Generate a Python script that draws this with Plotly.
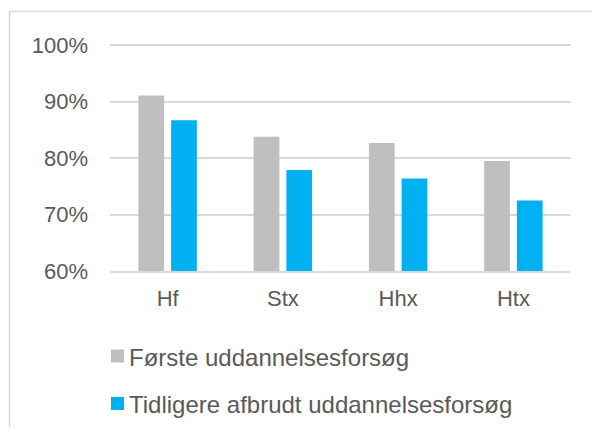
import plotly.graph_objects as go

categories = ["Hf", "Stx", "Hhx", "Htx"]
series_names = ["Første uddannelsesforsøg", "Tidligere afbrudt uddannelsesforsøg"]
first_attempt = [91.1, 83.8, 82.7, 79.5]
previously_dropped = [86.7, 77.9, 76.4, 72.5]
y_ticks = [60, 70, 80, 90, 100]
y_tick_labels = ["60%", "70%", "80%", "90%", "100%"]

colors = ["#BFBFBF", "#00B0F0"]
text_color = "#595959"
grid_color = "#D9D9D9"
FONT = "Liberation Sans, Arial, sans-serif"
FS_TICK = 22
FS_LEG = 24

# page body has an 8px default margin; design in reference pixels and shift
OFF = 8
W, H = 584, 419
ML, MT = 102, 35
MR = 21
MB = 156
PW, PH = W - ML - MR, H - MT - MB


def px_x(x):
    return (x - OFF - ML) / PW


def px_y(y):
    return (H - MB - (y - OFF)) / PH


fig = go.Figure()
for name, vals, col in zip(series_names, [first_attempt, previously_dropped], colors):
    fig.add_trace(go.Bar(x=categories, y=vals, name=name, marker_color=col,
                         marker_line_width=0, showlegend=False))

shapes = [
    dict(type="rect", xref="paper", yref="paper",
         x0=px_x(9.5), x1=px_x(640), y0=px_y(11.5), y1=px_y(470),
         line=dict(color=grid_color, width=1.5), fillcolor="rgba(0,0,0,0)", layer="below"),
]
annotations = []
legend_y = [356, 403.5]
for name, col, ly in zip(series_names, colors, legend_y):
    shapes.append(dict(type="rect", xref="paper", yref="paper",
                       x0=px_x(111), x1=px_x(124), y0=px_y(ly - 6.5), y1=px_y(ly + 6.5),
                       line=dict(width=0), fillcolor=col))
    annotations.append(dict(text=name, xref="paper", yref="paper", x=px_x(127), y=px_y(ly + 1),
                            xanchor="left", yanchor="middle", showarrow=False,
                            font=dict(family=FONT, size=FS_LEG, color=text_color)))

fig.update_layout(
    width=W, height=H,
    margin=dict(l=ML, r=MR, t=MT, b=MB, pad=0),
    paper_bgcolor="white", plot_bgcolor="white",
    barmode="group", bargap=0.432, bargroupgap=0.214,
    font=dict(family=FONT, size=FS_TICK, color=text_color),
    shapes=shapes, annotations=annotations,
    xaxis=dict(showgrid=False, showline=True, linecolor=grid_color, linewidth=1.5,
               ticks="", ticklabelstandoff=7, tickfont=dict(size=FS_TICK, color=text_color)),
    yaxis=dict(range=[60, 100.4], tickvals=y_ticks, ticktext=y_tick_labels,
               showgrid=True, gridcolor=grid_color, gridwidth=1.5, zeroline=False,
               showline=False, ticks="", ticklabelstandoff=21,
               tickfont=dict(size=FS_TICK, color=text_color)),
)

fig.write_html("out.html")
